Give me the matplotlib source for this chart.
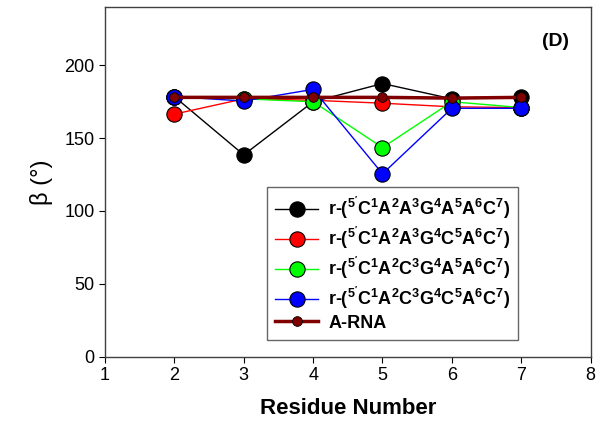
import matplotlib
matplotlib.use("Agg")
import matplotlib.pyplot as plt

plt.rcParams["font.family"] = ["Liberation Sans", "DejaVu Sans"]
plt.rcParams["mathtext.default"] = "regular"

residues = [2, 3, 4, 5, 6, 7]
beta_caagaac = [178.5, 138.5, 175.0, 187.5, 177.0, 178.5]
beta_caagcac = [166.5, 177.0, 176.0, 174.0, 171.5, 171.0]
beta_cacgaac = [178.0, 177.0, 175.0, 143.5, 175.0, 171.0]
beta_cacgcac = [178.5, 175.5, 183.5, 125.5, 170.5, 170.5]
beta_arna = [178.0, 178.0, 178.0, 178.0, 177.5, 178.0]

labels = [
    r"r-($^{5'}$C$^{1}$A$^{2}$A$^{3}$G$^{4}$A$^{5}$A$^{6}$C$^{7}$)",
    r"r-($^{5'}$C$^{1}$A$^{2}$A$^{3}$G$^{4}$C$^{5}$A$^{6}$C$^{7}$)",
    r"r-($^{5'}$C$^{1}$A$^{2}$C$^{3}$G$^{4}$A$^{5}$A$^{6}$C$^{7}$)",
    r"r-($^{5'}$C$^{1}$A$^{2}$C$^{3}$G$^{4}$C$^{5}$A$^{6}$C$^{7}$)",
    "A-RNA",
]

fig = plt.figure(figsize=(6.07, 4.44), dpi=100)
ax = fig.add_axes([0.173, 0.197, 0.800, 0.787])

series = [beta_caagaac, beta_caagcac, beta_cacgaac, beta_cacgcac]
colors = ["black", "red", "#00ff00", "blue"]
for vals, c, lab in zip(series, colors, labels[:4]):
    ax.plot(residues, vals, color=c, lw=1, marker="o", markersize=11,
            markerfacecolor=c, markeredgecolor="black", markeredgewidth=0.8,
            label=lab)
ax.plot(residues, beta_arna, color="#800000", lw=2.5, marker="o",
        markersize=7, markerfacecolor="#800000", markeredgecolor="black",
        markeredgewidth=0.6, label=labels[4])

ax.set_xlim(1, 8)
ax.set_ylim(0, 240)
ax.set_xticks(range(1, 9))
ax.set_yticks(range(0, 201, 50))
ax.tick_params(direction="out", labelsize=13, length=4)
for s in ax.spines.values():
    s.set_color("#404040")
    s.set_linewidth(1)

ax.set_xlabel("Residue Number", fontsize=16, fontweight="bold", labelpad=10)
ax.set_ylabel("β (°)", fontsize=17, labelpad=8)
ax.text(0.955, 0.89, "(D)", transform=ax.transAxes, fontsize=14,
        fontweight="bold", ha="right")

leg = ax.legend(loc="lower left", bbox_to_anchor=(0.333, 0.048),
                borderaxespad=0,
                prop={"weight": "bold", "size": 13}, fancybox=False,
                edgecolor="#404040", handlelength=2.4, labelspacing=0.2,
                borderpad=0.45, handletextpad=0.55)
leg.get_frame().set_linewidth(1)

fig.savefig("out.png", dpi=100)
